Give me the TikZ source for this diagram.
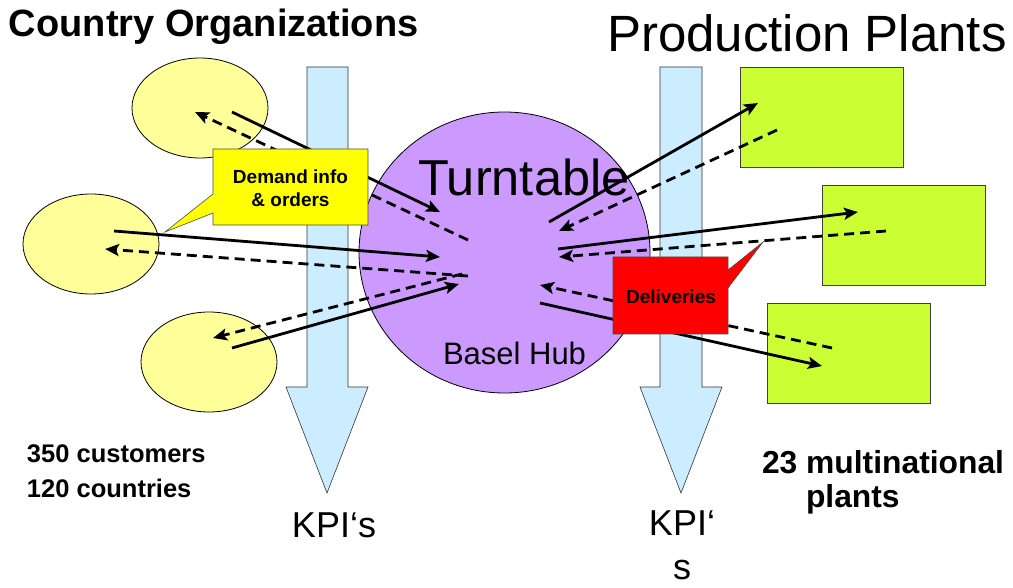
\documentclass[tikz,border=0pt]{standalone}
\usepackage{fontspec}
\setmainfont{Liberation Sans}
\usetikzlibrary{shapes.geometric,arrows.meta}
\definecolor{coyellow}{HTML}{FFFF99}
\definecolor{hubpurple}{HTML}{CC99FF}
\definecolor{kpiblue}{HTML}{CCECFF}
\definecolor{plantgreen}{HTML}{CCFF33}
\definecolor{calloutyellow}{HTML}{FFFF00}
\definecolor{calloutred}{HTML}{FF0000}
\newcommand\myfs[2]{\fontsize{#1}{#2}\selectfont}
\tikzset{
  coorg/.style={ellipse, draw=black, line width=0.8pt, fill=coyellow, minimum width=136pt, minimum height=100pt, inner sep=0pt},
  plant/.style={rectangle, draw=black!75, line width=0.8pt, fill=plantgreen, minimum width=163pt, minimum height=100pt, inner sep=0pt},
  kpi/.style={draw=black!80, line width=0.6pt, fill=kpiblue},
  flow/.style={line width=2.8pt, -{Stealth[length=14pt,width=12pt,inset=3pt]}},
  retflow/.style={flow, dash pattern=on 10pt off 6pt},
  calloutbox/.style={draw=black!70, line width=0.6pt},
  txt/.style={inner sep=0pt, outer sep=0pt},
}
\begin{document}
\begin{tikzpicture}[x=1pt, y=-1pt]
\useasboundingbox (0,0) rectangle (1013,588);
% KPI arrows
\draw[kpi] (307,67) -- (348,67) -- (348,387) -- (368,387) -- (327,493) -- (286,387) -- (307,387) -- cycle;
\draw[kpi] (660,67) -- (702,67) -- (702,387) -- (722,387) -- (681,493) -- (640,387) -- (660,387) -- cycle;
% country organizations
\node[coorg] (co1) at (200,108) {};
\node[coorg] (co2) at (91,244) {};
\node[coorg] (co3) at (209,362) {};
% hub
\node[ellipse, draw=black, line width=0.8pt, fill=hubpurple, minimum width=291pt, minimum height=281pt, inner sep=0pt] (hub) at (504.5,252.5) {};
% plants
\node[plant] (pp1) at (821.5,117) {};
\node[plant] (pp2) at (903.5,235) {};
\node[plant] (pp3) at (849,353) {};
% texts
\node[txt, anchor=base west, font=\myfs{38}{45}\bfseries] (t1) at (9,37) {Country Organizations};
\node[txt, anchor=base west, font=\myfs{51}{60}] (t2) at (607,52) {Production Plants};
\node[txt, anchor=base west, font=\myfs{50.5}{60}] (turn) at (418,196) {Turntable};
\node[txt, anchor=base west, font=\myfs{31}{37}] (basel) at (443,365) {Basel Hub};
\node[txt, anchor=north west, align=left, font=\myfs{25.5}{35}\bfseries] (cust) at (27,445) {350 customers\\120 countries};
\node[txt, anchor=north west, align=left, font=\myfs{31.8}{34}\bfseries] (mult) at (762,450) {23 multinational\\\hspace*{44pt}plants};
\node[txt, anchor=base, font=\myfs{36}{43}] (kpil) at (334,537) {KPI‘s};
\node[txt, anchor=north, align=center, font=\myfs{36}{44}] (kpir) at (682,511) {KPI‘\\s};
% flow endpoints
\coordinate (l1a) at (232,112); \coordinate (l1b) at (440,212);
\coordinate (l1c) at (468,240); \coordinate (l1d) at (195,112);
\coordinate (l2a) at (114,231); \coordinate (l2b) at (440,257);
\coordinate (l2c) at (468,276); \coordinate (l2d) at (105,249);
\coordinate (l3a) at (232,348); \coordinate (l3b) at (459,284);
\coordinate (l3c) at (462,274); \coordinate (l3d) at (213,338);
\coordinate (r1a) at (549,222); \coordinate (r1b) at (758,103);
\coordinate (r1c) at (777,130); \coordinate (r1d) at (559,231);
\coordinate (r2a) at (558,249); \coordinate (r2b) at (858,212);
\coordinate (r2c) at (886,231); \coordinate (r2d) at (559,257);
\coordinate (r3a) at (540,303); \coordinate (r3b) at (822,366);
\coordinate (r3c) at (832,348); \coordinate (r3d) at (540,285);
% flows
\draw[flow] (l1a) -- (l1b);
\draw[retflow] (l1c) -- (l1d);
\draw[flow] (l2a) -- (l2b);
\draw[retflow] (l2c) -- (l2d);
\draw[flow] (l3a) -- (l3b);
\draw[retflow] (l3c) -- (l3d);
\draw[flow] (r1a) -- (r1b);
\draw[retflow] (r1c) -- (r1d);
\draw[flow] (r2a) -- (r2b);
\draw[retflow] (r2c) -- (r2d);
\draw[flow] (r3a) -- (r3b);
\draw[retflow] (r3c) -- (r3d);
% callouts
\draw[calloutbox, fill=calloutyellow] (213,149) -- (368,149) -- (368,225) -- (213,225) -- (213,213) -- (165,232) -- (213,194) -- cycle;
\node[txt, anchor=north, align=center, font=\myfs{19}{23}\bfseries] (demand) at (290.5,170) {Demand info\\\& orders};
\draw[calloutbox, fill=calloutred] (613,257) -- (728,257) -- (728,270) -- (763,242) -- (728,288) -- (728,334) -- (613,334) -- cycle;
\node[txt, anchor=base, font=\myfs{19}{23}\bfseries] (deliv) at (671,304) {Deliveries};
\end{tikzpicture}
\end{document}
